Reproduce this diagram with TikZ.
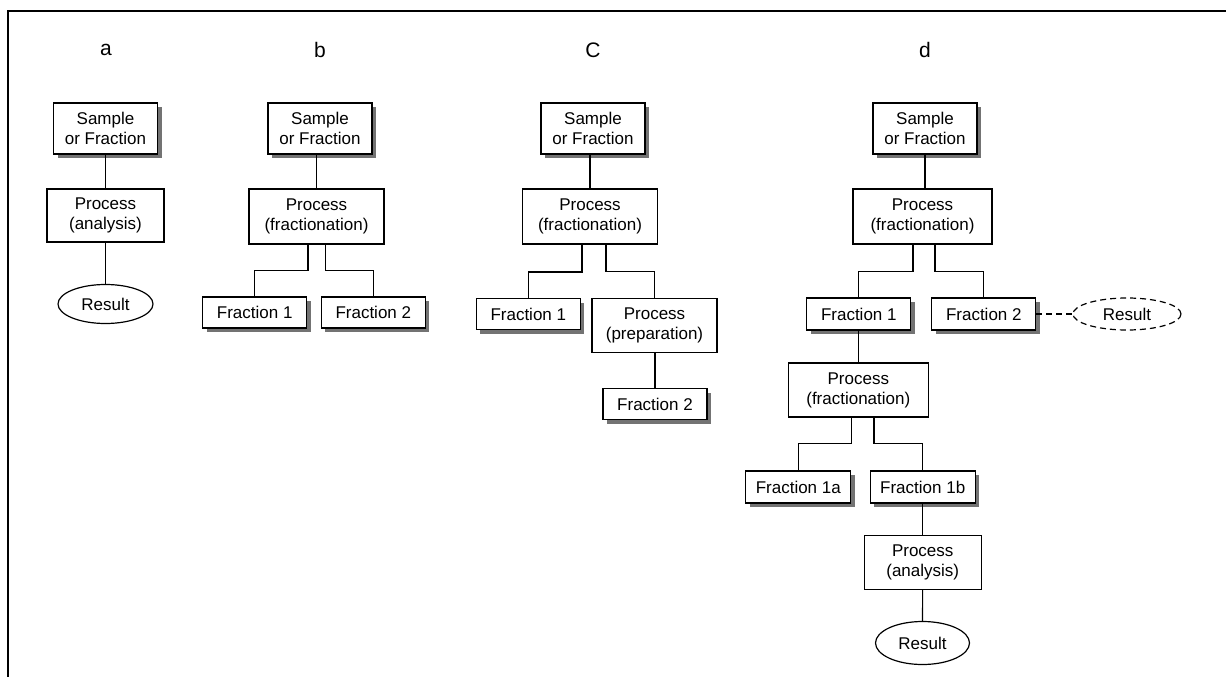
\documentclass[tikz,border=0pt]{standalone}
\usepackage{fontspec}
\setmainfont{Liberation Sans}
\usetikzlibrary{shapes.geometric,shadows}
\begin{document}
\begin{tikzpicture}[x=1pt,y=-1pt,
  every node/.style={font=\fontsize{17}{20}\selectfont, align=center, inner sep=0pt},
  base/.style={draw, line width=1.2pt, fill=white},
  shd/.style={drop shadow={shadow xshift=4pt, shadow yshift=-4pt, fill=black!55, opacity=1}},
  samplebox/.style={base, shd, minimum width=104pt, minimum height=51pt},
  procbox/.style={base, minimum height=54pt},
  fracbox/.style={base, shd, minimum width=104pt, minimum height=31pt},
  resell/.style={base, ellipse, minimum width=95pt, minimum height=39pt},
  conn/.style={line width=1.2pt},
  dsh/.style={dash pattern=on 6pt off 4pt},
  lbl/.style={font=\fontsize{21}{24}\selectfont}
]
\useasboundingbox (0,0) rectangle (1226,677);
\draw[line width=2.2pt] (8,677) -- (8,11) -- (1226,11);

% labels
\node[lbl] (la) at (106,50) {a};
\node[lbl] (lb) at (320,50) {b};
\node[lbl] (lc) at (593,50) {C};
\node[lbl] (ld) at (925,50) {d};

% panel a
\node[samplebox] (sa) at (105.5,128.5) {Sample\\or Fraction};
\node[procbox, minimum width=117pt, minimum height=53pt] (pa) at (105.5,215.5) {Process\\(analysis)};
\node[resell] (ra) at (105.5,304) {Result};
\draw[conn] (sa) -- (pa);
\draw[conn] (pa) -- (ra);

% panel b
\node[samplebox] (sb) at (320,128.5) {Sample\\or Fraction};
\node[procbox, minimum width=135pt, minimum height=55pt] (pb) at (316.5,216.5) {Process\\(fractionation)};
\node[fracbox] (f1b) at (254.7,312.5) {Fraction 1};
\node[fracbox] (f2b) at (373.3,312.5) {Fraction 2};
\draw[conn] (sb.south -| pb.north) -- (pb.north);
\draw[conn] ([xshift=-8.5pt]pb.south) |- ([yshift=26pt]f1b.north) -- (f1b.north);
\draw[conn] ([xshift=9pt]pb.south) |- ([yshift=26pt]f2b.north) -- (f2b.north);

% panel c
\node[samplebox] (sc) at (593,128.5) {Sample\\or Fraction};
\node[procbox, minimum width=135pt, minimum height=55pt] (pc) at (590,216.5) {Process\\(fractionation)};
\node[fracbox] (f1c) at (528.3,314) {Fraction 1};
\node[procbox, minimum width=125pt, minimum height=54pt] (ppc) at (654.5,325.3) {Process\\(preparation)};
\node[fracbox] (f2c) at (655,404) {Fraction 2};
\draw[conn] (sc.south -| pc.north) -- (pc.north);
\draw[conn] ([xshift=-8pt]pc.south) |- ([yshift=26pt]f1c.north) -- (f1c.north);
\draw[conn] ([xshift=16pt]pc.south) |- ([yshift=26pt]ppc.north) -- (ppc.north);
\draw[conn] (ppc.south -| f2c.north) -- (f2c.north);

% panel d
\node[samplebox] (sd) at (925,128.5) {Sample\\or Fraction};
\node[procbox, minimum width=139pt, minimum height=55pt] (pd) at (922.5,216.5) {Process\\(fractionation)};
\node[fracbox, minimum height=32pt] (f1d) at (858.8,314) {Fraction 1};
\node[fracbox, minimum height=32pt] (f2d) at (983.8,314) {Fraction 2};
\node[base, ellipse, dsh, minimum width=108pt, minimum height=32pt] (rd2) at (1127,314) {Result};
\node[procbox, minimum width=140pt, minimum height=54pt] (pd2) at (858.3,390) {Process\\(fractionation)};
\node[fracbox, minimum width=105pt, minimum height=32pt] (f1a) at (798.3,487) {Fraction 1a};
\node[fracbox, minimum width=105pt, minimum height=32pt] (f1bb) at (922.7,487) {Fraction 1b};
\node[procbox, minimum width=117pt, minimum height=54pt] (pd3) at (922.7,562.5) {Process\\(analysis)};
\node[resell, minimum width=94pt, minimum height=43pt] (rd3) at (922.5,643) {Result};
\draw[conn] (sd.south -| 925,0) -- (925,0 |- pd.north);
\draw[conn] ([xshift=-9.5pt]pd.south) |- ([yshift=26pt]f1d.north) -- (f1d.north);
\draw[conn] ([xshift=12.5pt]pd.south) |- ([yshift=26pt]f2d.north) -- (f2d.north);
\draw[conn, dsh] (f2d.east) -- (rd2.west);
\draw[conn] (f1d.south -| pd2.north) -- (pd2.north);
\draw[conn] ([xshift=-6.6pt]pd2.south) |- ([yshift=27pt]f1a.north) -- (f1a.north);
\draw[conn] ([xshift=15.7pt]pd2.south) |- ([yshift=27pt]f1bb.north) -- (f1bb.north);
\draw[conn] (f1bb) -- (pd3);
\draw[conn] (pd3) -- (rd3);
\end{tikzpicture}
\end{document}
